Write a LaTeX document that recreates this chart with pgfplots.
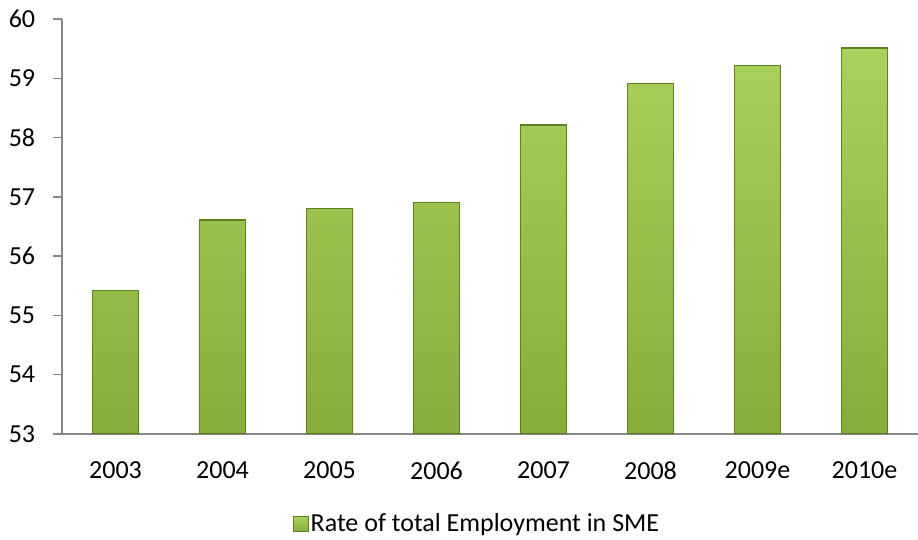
\documentclass[border=0pt]{standalone}
\usepackage{pgfplots}
\pgfplotsset{compat=1.18}
\usepackage{fontspec}
\setmainfont{Carlito}
\definecolor{axgray}{HTML}{868686}
\definecolor{bartop}{HTML}{A9D15B}
\definecolor{barbot}{HTML}{86AD3A}
\definecolor{baredge}{HTML}{5E7F22}
\begin{document}
\fontsize{26bp}{31bp}\selectfont
\begin{tikzpicture}[x=1bp,y=1bp]
\useasboundingbox (0,0) rectangle (918,540);
\begin{axis}[
  at={(62bp,106bp)}, anchor=south west,
  scale only axis, width=856bp, height=415bp,
  xmin=-0.5, xmax=7.5, ymin=53, ymax=60,
  axis x line*=bottom, axis y line*=left,
  axis line style={axgray, line width=1.5bp, -},
  ytick={53,...,60},
  xtick={0,...,7},
  xticklabels={2003,2004,2005,2006,2007,2008,2009e,2010e},
  x tick label style={yshift=-10bp},
  y tick label style={xshift=-9bp},
  major x tick style={draw=none},
  extra x ticks={-0.5,0.5,...,7.5},
  extra x tick labels={},
  extra x tick style={major tick length=9bp, tick style={axgray, line width=1.5bp}, tick align=outside},
  ytick style={axgray, line width=1.5bp},
  major tick length=9bp, tick align=outside,
  /pgf/number format/assume math mode=true,
  ticklabel style={font=\fontsize{26bp}{31bp}\selectfont},
  ybar, bar width=0.43,
  legend style={at={(0.485,-0.217)}, anchor=center, draw=none, font=\fontsize{26bp}{31bp}\selectfont, legend cell align=left},
  legend image code/.code={\draw[baredge, top color=bartop, bottom color=barbot, line width=0.6bp] (-9bp,-7.5bp) rectangle (6bp,7.5bp);},
]
\addplot[ybar, top color=bartop, bottom color=barbot, draw=baredge, line width=1.3bp]
  coordinates {(0,55.42) (1,56.61) (2,56.80) (3,56.91) (4,58.21) (5,58.91) (6,59.22) (7,59.51)};
\addlegendentry{Rate of total Employment in SME}
\end{axis}
\end{tikzpicture}
\end{document}
